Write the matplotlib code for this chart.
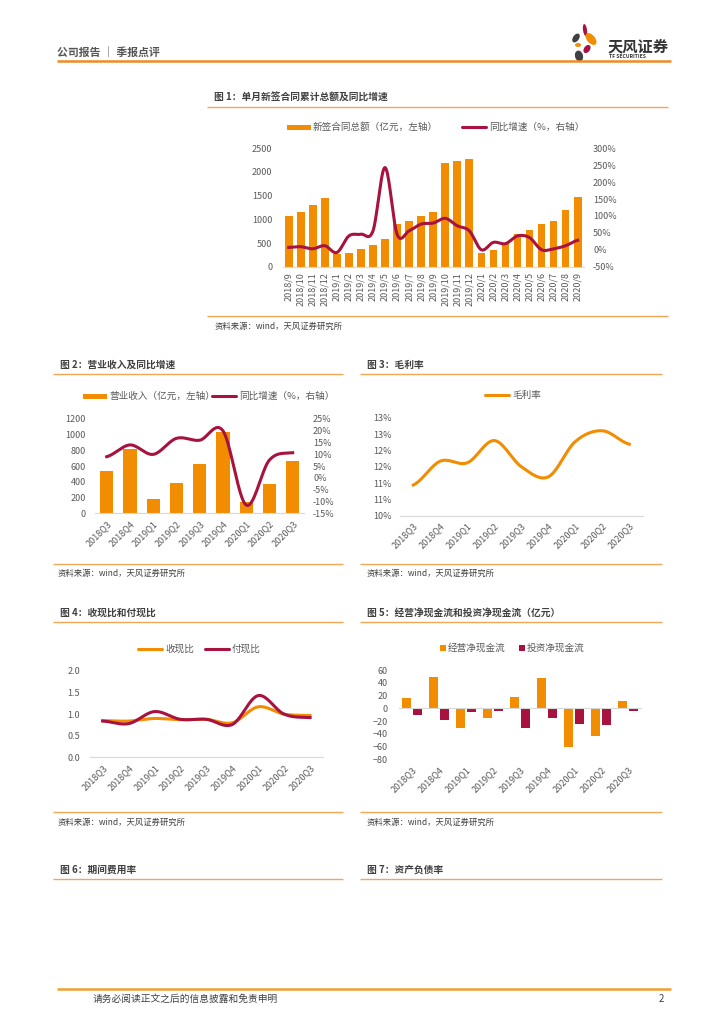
import numpy as np
import matplotlib.pyplot as plt
import matplotlib.transforms as mtransforms
from matplotlib.patches import Ellipse, Rectangle

plt.rcParams['font.family'] = ['Noto Sans CJK SC', 'DejaVu Sans']

W, H = 724, 1024
ORANGE = '#F28C00'
RED = '#A8123E'
SECLINE = '#F5A557'
GRAY = '#595959'
DARK = '#404040'
AXIS = '#D9D9D9'

# ---- data ----
months = ['2018/9', '2018/10', '2018/11', '2018/12', '2019/1', '2019/2', '2019/3',
          '2019/4', '2019/5', '2019/6', '2019/7', '2019/8', '2019/9', '2019/10',
          '2019/11', '2019/12', '2020/1', '2020/2', '2020/3', '2020/4', '2020/5',
          '2020/6', '2020/7', '2020/8', '2020/9']
contract_amt = [1080, 1150, 1300, 1450, 270, 290, 380, 460, 580, 900, 960, 1070, 1150,
                2200, 2230, 2270, 280, 360, 470, 690, 780, 900, 970, 1200, 1470]
contract_yoy = [7, 9, 3, 12, -8, 41, 46, 56, 243, 46, 56, 76, 79, 93, 71, 56,
                0, 22, 18, 41, 36, 0, 3, 12, 28]

quarters = ['2018Q3', '2018Q4', '2019Q1', '2019Q2', '2019Q3', '2019Q4',
            '2020Q1', '2020Q2', '2020Q3']
revenue = [540, 820, 180, 385, 630, 1040, 140, 370, 660]
revenue_yoy = [9.0, 14.0, 10.0, 16.8, 16.0, 20.0, -11.5, 7.6, 10.7]

gross_margin = [10.94, 11.67, 11.62, 12.30, 11.50, 11.19, 12.27, 12.60, 12.19]
gm_ticks = [10, 10.5, 11, 11.5, 12, 12.5, 13]
gm_labels = ['10%', '11%', '11%', '12%', '12%', '13%', '13%']

cash_in_ratio = [0.85, 0.84, 0.90, 0.87, 0.88, 0.80, 1.17, 1.00, 0.97]
cash_out_ratio = [0.84, 0.78, 1.06, 0.88, 0.88, 0.76, 1.43, 1.00, 0.92]

op_cf = [16, 49, -31, -16, 17, 47, -60, -43, 11]
inv_cf = [-10, -18, -6, -4, -31, -16, -25, -27, -5]

source = '资料来源：wind，天风证券研究所'


def smooth(y, n=20):
    # Excel-like smoothed line (Catmull-Rom through the points)
    y = np.asarray(y, float)
    p = np.r_[y[0], y, y[-1]]
    t = np.linspace(0, 1, n, endpoint=False)
    xs, ys = [], []
    for i in range(len(y) - 1):
        p0, p1, p2, p3 = p[i], p[i + 1], p[i + 2], p[i + 3]
        seg = 0.5 * (2 * p1 + (p2 - p0) * t + (2 * p0 - 5 * p1 + 4 * p2 - p3) * t ** 2
                     + (-p0 + 3 * p1 - 3 * p2 + p3) * t ** 3)
        xs.append(i + t)
        ys.append(seg)
    xs.append([len(y) - 1])
    ys.append([y[-1]])
    return np.concatenate(xs), np.concatenate(ys)


fig = plt.figure(figsize=(W / 100, H / 100), dpi=100)
page = fig.add_axes([0, 0, 1, 1])
page.set_xlim(0, W)
page.set_ylim(H, 0)
page.axis('off')


def box(l, t, r, b):
    return fig.add_axes([l / W, 1 - b / H, (r - l) / W, (b - t) / H])


def style(ax, bottom=True, ypad=7):
    for s in ax.spines.values():
        s.set_visible(False)
    if bottom:
        ax.spines['bottom'].set_visible(True)
        ax.spines['bottom'].set_color(AXIS)
        ax.spines['bottom'].set_linewidth(0.8)
    ax.tick_params(length=0, labelsize=6.5, colors=GRAY, pad=4)
    ax.tick_params(axis='y', pad=ypad)
    ax.patch.set_alpha(0)


def hline(x1, x2, y, color=SECLINE, lw=1.0):
    page.plot([x1, x2], [y, y], color=color, lw=lw, solid_capstyle='butt')


def section(x1, x2, y, title):
    page.text(x1 + 7, y - 9, title, fontsize=7, fontweight='bold', color=DARK, va='center')
    hline(x1, x2, y)


def legend_bar(x, y, label, color, w=24, h=5):
    page.add_patch(Rectangle((x, y - h / 2), w, h, color=color, lw=0))
    page.text(x + w + 2, y, label, fontsize=6.9, color=GRAY, va='center')


def legend_line(x, y, label, color, w=24):
    page.plot([x, x + w], [y, y], color=color, lw=2.2, solid_capstyle='round')
    page.text(x + w + 3, y, label, fontsize=6.9, color=GRAY, va='center')


def rot_labels(ax):
    ax.set_xticks(range(len(quarters)))
    ax.set_xticklabels(quarters, rotation=45, ha='right', rotation_mode='anchor', fontsize=6.7)
    shift = mtransforms.ScaledTranslation(3 / 100, 0, fig.dpi_scale_trans)
    for lab in ax.get_xticklabels():
        lab.set_transform(lab.get_transform() + shift)


# ---- header ----
page.text(57, 52, '公司报告 ｜ 季报点评', fontsize=7.8, color='#555555', va='center', fontweight='bold')
hline(57, 671, 61, color='#F08A24', lw=1.8)
for (cx, cy, w, h, ang, c) in [(585, 30, 4, 12, -8, RED), (591, 39, 8, 14, -40, ORANGE),
                               (576, 38, 6, 10, 35, '#404040'), (578, 45, 6, 4, 0, ORANGE),
                               (587, 49, 6, 9, 35, RED), (579, 56, 8, 11, -15, '#404040')]:
    page.add_patch(Ellipse((cx, cy), w, h, angle=ang, color=c, lw=0))
page.text(608, 46, '天风证券', fontsize=11, fontweight='bold', color='#333333', va='center')
page.text(609, 57, 'TF SECURITIES', fontsize=3.6, fontweight='bold', color='#333333', va='center')

# ---- figure 1 ----
section(207, 668, 107, '图 1：单月新签合同累计总额及同比增速')
legend_bar(287, 127, '新签合同总额（亿元，左轴）', ORANGE)
legend_line(462, 127, '同比增速（%，右轴）', RED)
ax1 = box(282.7, 148.3, 583.7, 266.7)
x = np.arange(len(months))
ax1.bar(x, contract_amt, width=0.64, color=ORANGE)
ax1.set_xlim(-0.5, len(months) - 0.5)
ax1.set_ylim(0, 2500)
ax1.set_yticks(range(0, 2501, 500))
ax1.set_xticks(x)
ax1.set_xticklabels(months, rotation=90, fontsize=6.2, va='top', ha='center')
style(ax1, ypad=7.5)
ax1r = ax1.twinx()
ax1r.plot(*smooth(contract_yoy), color=RED, lw=2.2)
ax1r.set_ylim(-50, 300)
ax1r.set_yticks(range(-50, 301, 50))
ax1r.set_yticklabels([f'{v}%' for v in range(-50, 301, 50)])
style(ax1r, bottom=False, ypad=6.7)
hline(207, 668, 316)
page.text(215, 326, source, fontsize=6, color=DARK, va='center')

# ---- figure 2 ----
section(53, 343, 374, '图 2：营业收入及同比增速')
legend_bar(83, 396, '营业收入（亿元，左轴）', ORANGE)
legend_line(212, 396, '同比增速（%，右轴）', RED)
ax2 = box(95.1, 419, 304.3, 513.3)
xq = np.arange(len(quarters))
ax2.bar(xq, revenue, width=0.57, color=ORANGE)
ax2.set_xlim(-0.5, len(quarters) - 0.5)
ax2.set_ylim(0, 1200)
ax2.set_yticks(range(0, 1201, 200))
rot_labels(ax2)
style(ax2, ypad=6.5)
ax2r = ax2.twinx()
ax2r.plot(*smooth(revenue_yoy), color=RED, lw=2.2)
ax2r.set_ylim(-15, 25)
ax2r.set_yticks(range(-15, 26, 5))
ax2r.set_yticklabels([f'{v}%' for v in range(-15, 26, 5)])
style(ax2r, bottom=False, ypad=6.3)
hline(53, 343, 564)
page.text(58, 573, source, fontsize=6, color=DARK, va='center')

# ---- figure 3 ----
section(360, 662, 374, '图 3：毛利率')
legend_line(485, 395, '毛利率', ORANGE)
ax3 = box(399.8, 417.7, 642.8, 515.7)
ax3.plot(*smooth(gross_margin), color=ORANGE, lw=2.2)
ax3.set_xlim(-0.5, len(quarters) - 0.5)
ax3.set_ylim(10, 13)
ax3.set_yticks(gm_ticks)
ax3.set_yticklabels(gm_labels)
rot_labels(ax3)
style(ax3, ypad=5.6)
hline(360, 662, 564)
page.text(367, 573, source, fontsize=6, color=DARK, va='center')

# ---- figure 4 ----
section(53, 343, 622, '图 4：收现比和付现比')
legend_line(138, 649, '收现比', ORANGE)
legend_line(205, 649, '付现比', RED)
ax4 = box(89.7, 671, 323, 757.3)
ax4.plot(*smooth(cash_in_ratio), color=ORANGE, lw=2.2)
ax4.plot(*smooth(cash_out_ratio), color=RED, lw=2.2)
ax4.set_xlim(-0.5, len(quarters) - 0.5)
ax4.set_ylim(0, 2.0)
ax4.set_yticks(np.arange(0, 2.01, 0.5))
ax4.set_yticklabels([f'{v:.1f}' for v in np.arange(0, 2.01, 0.5)])
rot_labels(ax4)
style(ax4, ypad=7)
hline(53, 343, 812)
page.text(58, 822, source, fontsize=6, color=DARK, va='center')

# ---- figure 5 ----
section(360, 662, 622, '图 5：经营净现金流和投资净现金流（亿元）')
legend_bar(440, 648, '经营净现金流', ORANGE, w=6, h=6)
legend_bar(519, 648, '投资净现金流', RED, w=6, h=6)
ax5 = box(398.8, 670, 641.8, 759.3)
ax5.bar(xq - 0.2, op_cf, width=0.34, color=ORANGE)
ax5.bar(xq + 0.2, inv_cf, width=0.34, color=RED)
ax5.axhline(0, color=AXIS, lw=0.8)
ax5.set_xlim(-0.5, len(quarters) - 0.5)
ax5.set_ylim(-80, 60)
ax5.set_yticks(range(-80, 61, 20))
rot_labels(ax5)
style(ax5, bottom=False, ypad=7.8)
hline(360, 662, 812)
page.text(367, 822, source, fontsize=6, color=DARK, va='center')

# ---- figures 6 / 7 headers ----
section(53, 343, 879, '图 6：期间费用率')
section(360, 662, 879, '图 7：资产负债率')

# ---- footer ----
hline(57, 671, 989, color='#F0A030', lw=1.8)
page.text(93, 999, '请务必阅读正文之后的信息披露和免责申明', fontsize=7, color=DARK, va='center')
page.text(664, 999, '2', fontsize=7, color=DARK, va='center', ha='right')

fig.savefig('out.png', dpi=100)
